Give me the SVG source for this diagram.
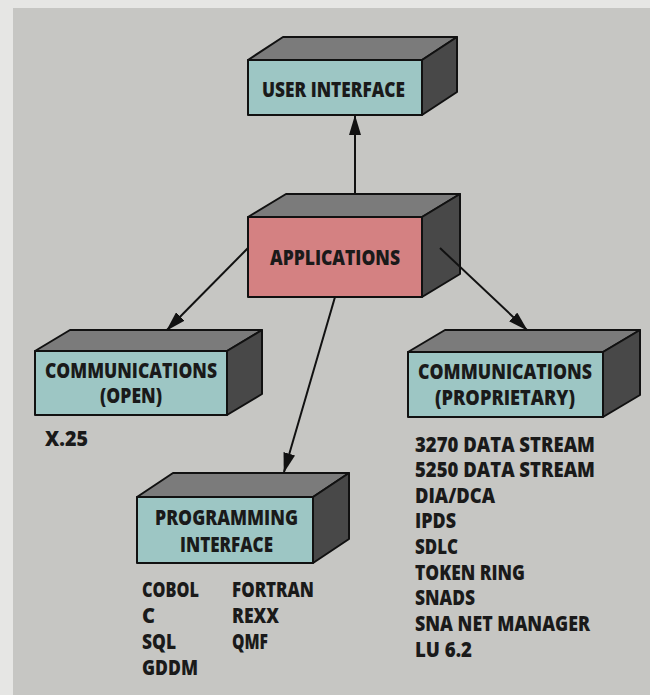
<svg xmlns="http://www.w3.org/2000/svg" width="650" height="695" viewBox="0 0 650 695">
<defs>
<marker id="arr" viewBox="0 0 20 12" refX="19" refY="6" markerWidth="20" markerHeight="12" markerUnits="userSpaceOnUse" orient="auto">
<path d="M0,0 L20,6 L0,12 z" fill="#111"/>
</marker>
<style>
.bg{fill:#c6c6c3}
.frame{fill:#e6e6e4}
.front{fill:#9dc6c4;stroke:#111;stroke-width:2;stroke-linejoin:round}
.apps{fill:#d48182;stroke:#111;stroke-width:2;stroke-linejoin:round}
.top{fill:#7b7b7b;stroke:#111;stroke-width:2;stroke-linejoin:round}
.side{fill:#484848;stroke:#111;stroke-width:2;stroke-linejoin:round}
.lbl{font-family:"Open Sans","Noto Sans","Liberation Sans",sans-serif;font-weight:800;font-size:21px;fill:#1a1a1a}
.conn{stroke:#111;stroke-width:2;fill:none;marker-end:url(#arr)}
</style>
</defs>
<rect x="0" y="0" width="650" height="695" class="frame"/>
<rect x="13" y="8" width="637" height="687" class="bg"/>

<g id="user-interface">
<polygon class="top" points="248,60 283,37 457,37 422,60"/>
<polygon class="side" points="422,60 457,37 457,92 422,115"/>
<rect class="front" x="248" y="60" width="174" height="55"/>
<text class="lbl" x="262" y="97" textLength="143" lengthAdjust="spacingAndGlyphs">USER INTERFACE</text>
</g>

<g id="applications">
<polygon class="top" points="248,217 286,194 460,194 422,217"/>
<polygon class="side" points="422,217 460,194 460,274 422,297"/>
<rect class="apps" x="248" y="217" width="174" height="80"/>
<text class="lbl" x="270" y="265" textLength="130" lengthAdjust="spacingAndGlyphs">APPLICATIONS</text>
</g>

<g id="communications-open">
<polygon class="top" points="35,351 70,330 262,330 227,351"/>
<polygon class="side" points="227,351 262,330 262,394 227,415"/>
<rect class="front" x="35" y="351" width="192" height="64"/>
<text class="lbl" x="45" y="378" textLength="172" lengthAdjust="spacingAndGlyphs">COMMUNICATIONS</text>
<text class="lbl" x="100" y="403" textLength="62" lengthAdjust="spacingAndGlyphs">(OPEN)</text>
<text class="lbl" x="45" y="446" textLength="43" lengthAdjust="spacingAndGlyphs">X.25</text>
</g>

<g id="communications-proprietary">
<polygon class="top" points="408,352 445,330 640,330 603,352"/>
<polygon class="side" points="603,352 640,330 640,395 603,417"/>
<rect class="front" x="408" y="352" width="195" height="65"/>
<text class="lbl" x="418" y="379" textLength="174" lengthAdjust="spacingAndGlyphs">COMMUNICATIONS</text>
<text class="lbl" x="435" y="405" textLength="140" lengthAdjust="spacingAndGlyphs">(PROPRIETARY)</text>
<text class="lbl" x="415" y="452" textLength="180" lengthAdjust="spacingAndGlyphs">3270 DATA STREAM</text>
<text class="lbl" x="415" y="477" textLength="180" lengthAdjust="spacingAndGlyphs">5250 DATA STREAM</text>
<text class="lbl" x="415" y="503" textLength="80" lengthAdjust="spacingAndGlyphs">DIA/DCA</text>
<text class="lbl" x="415" y="528" textLength="41" lengthAdjust="spacingAndGlyphs">IPDS</text>
<text class="lbl" x="415" y="554" textLength="43" lengthAdjust="spacingAndGlyphs">SDLC</text>
<text class="lbl" x="415" y="580" textLength="110" lengthAdjust="spacingAndGlyphs">TOKEN RING</text>
<text class="lbl" x="415" y="605" textLength="60" lengthAdjust="spacingAndGlyphs">SNADS</text>
<text class="lbl" x="415" y="631" textLength="175" lengthAdjust="spacingAndGlyphs">SNA NET MANAGER</text>
<text class="lbl" x="415" y="657" textLength="57" lengthAdjust="spacingAndGlyphs">LU 6.2</text>
</g>

<g id="programming-interface">
<polygon class="top" points="137,497 173,473 349,473 313,497"/>
<polygon class="side" points="313,497 349,473 349,539 313,563"/>
<rect class="front" x="137" y="497" width="176" height="66"/>
<text class="lbl" x="155" y="525" textLength="143" lengthAdjust="spacingAndGlyphs">PROGRAMMING</text>
<text class="lbl" x="180" y="552" textLength="93" lengthAdjust="spacingAndGlyphs">INTERFACE</text>
<text class="lbl" x="142" y="597" textLength="57" lengthAdjust="spacingAndGlyphs">COBOL</text>
<text class="lbl" x="142" y="623" textLength="13" lengthAdjust="spacingAndGlyphs">C</text>
<text class="lbl" x="142" y="649" textLength="34" lengthAdjust="spacingAndGlyphs">SQL</text>
<text class="lbl" x="142" y="675" textLength="56" lengthAdjust="spacingAndGlyphs">GDDM</text>
<text class="lbl" x="232" y="597" textLength="82" lengthAdjust="spacingAndGlyphs">FORTRAN</text>
<text class="lbl" x="232" y="623" textLength="47" lengthAdjust="spacingAndGlyphs">REXX</text>
<text class="lbl" x="232" y="649" textLength="36" lengthAdjust="spacingAndGlyphs">QMF</text>
</g>

<g id="connectors">
<line class="conn" x1="355" y1="194" x2="355" y2="116"/>
<line class="conn" x1="248" y1="248" x2="167" y2="330"/>
<line class="conn" x1="335" y1="297" x2="284" y2="472"/>
<line class="conn" x1="440" y1="248" x2="527" y2="330"/>
</g>
</svg>
